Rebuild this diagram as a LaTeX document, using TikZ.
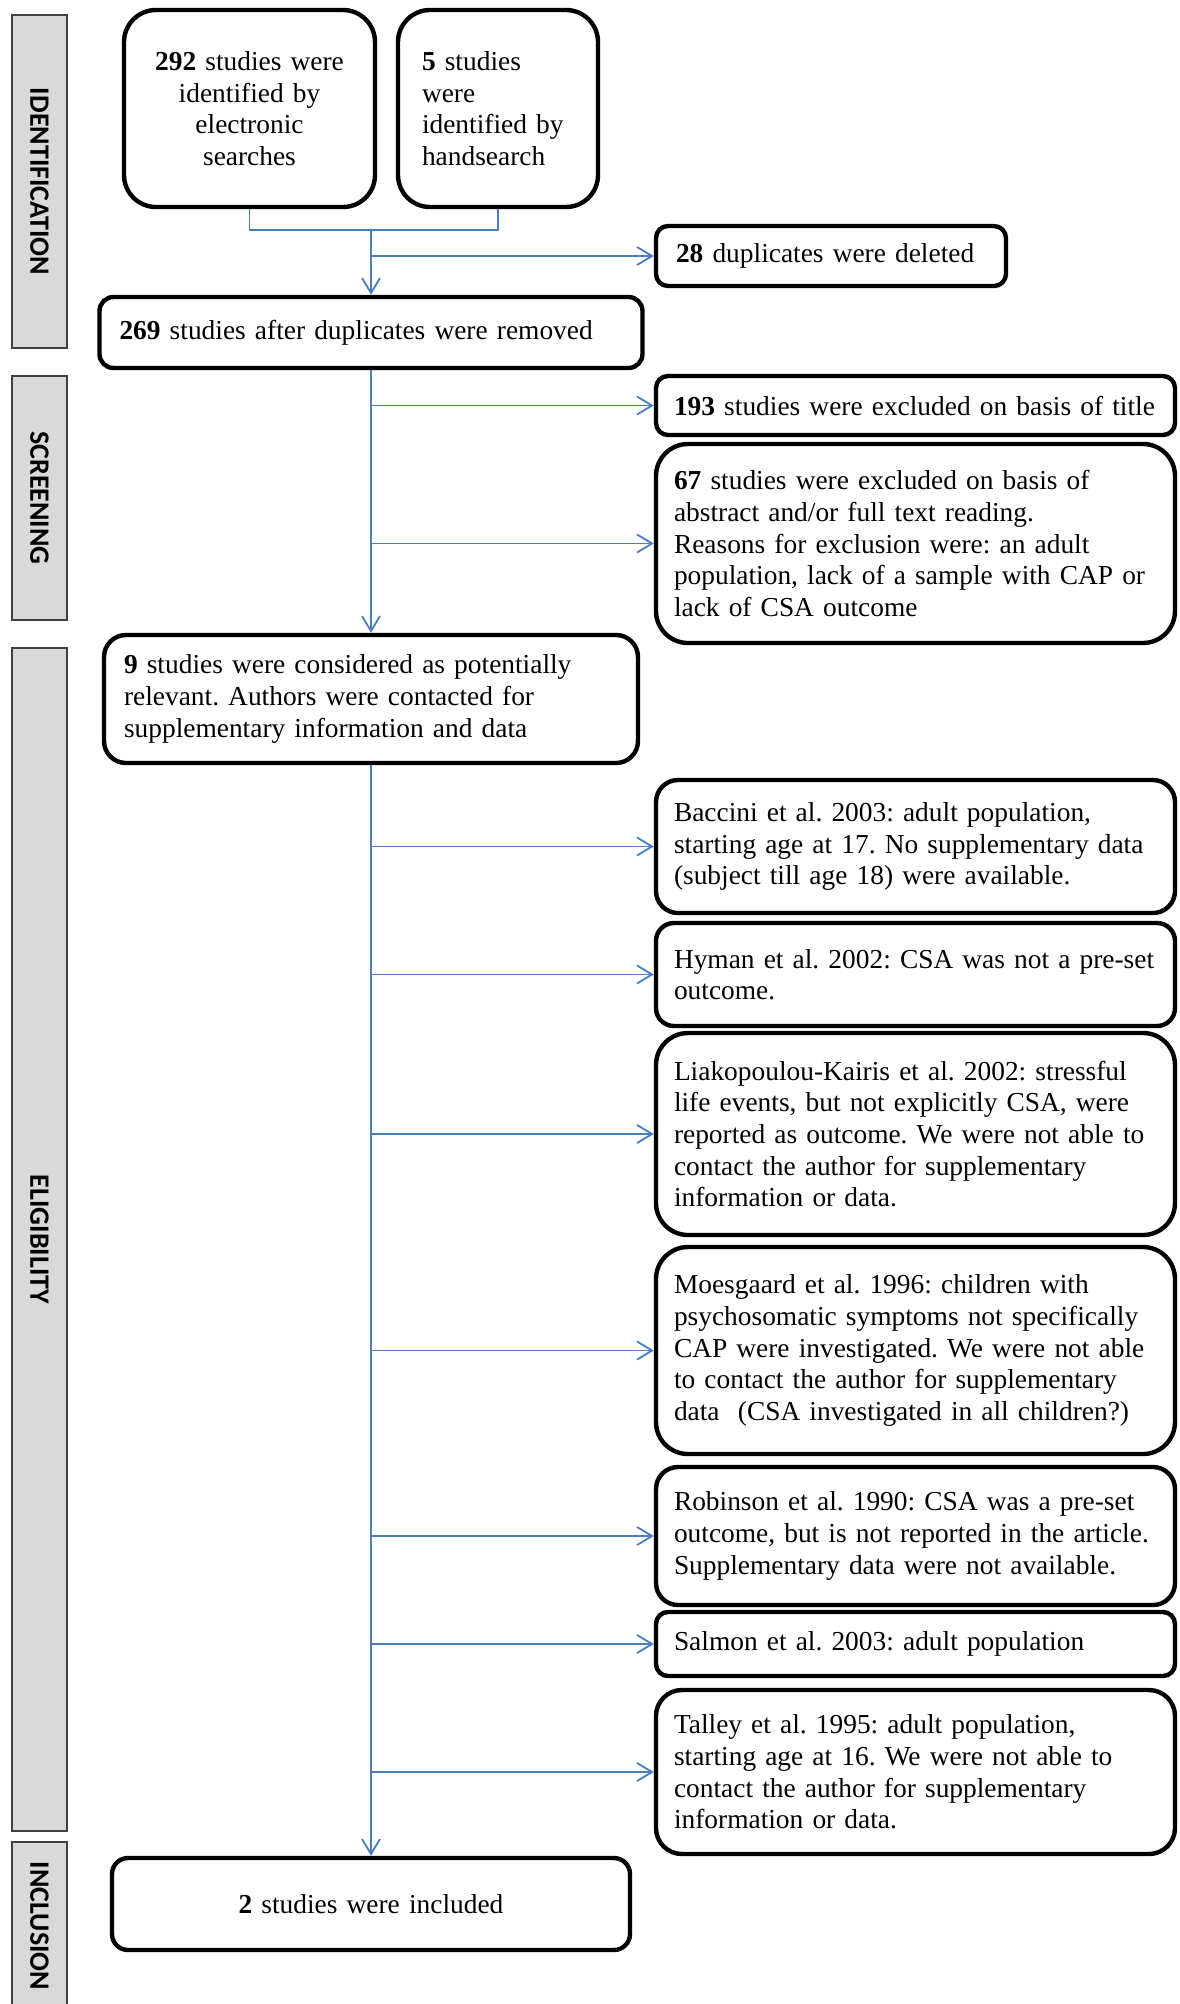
\documentclass[tikz,border=0pt]{standalone}
\usepackage{fontspec}
\setmainfont{Liberation Serif}
\newfontfamily\phasefont{Carlito}
\usetikzlibrary{arrows.meta}
\definecolor{linkblue}{HTML}{4A7EBB}
\definecolor{phasegray}{HTML}{D9D9D9}
\frenchspacing
\hyphenpenalty=10000
\exhyphenpenalty=10000

\begin{document}
\begin{tikzpicture}[x=0.5pt, y=-0.5pt,
    font=\fontsize{13.7}{15.8}\selectfont,
    box/.style={draw, line width=2.2pt, rounded corners=#1, inner xsep=10pt, inner ysep=0pt},
    box/.default=8pt,
    lbox/.style={box=#1, align=left},
    exclbox/.style={lbox=#1, inner xsep=9pt, text width=241.5pt},
    phase/.style={draw=black!75, fill=phasegray, line width=0.8pt, rotate=-90, minimum height=27.5pt, inner sep=0pt, font=\phasefont\bfseries\fontsize{14}{16}\selectfont},
    link/.style={draw=linkblue, line width=0.9pt},
    flow/.style={link, -{Straight Barb[length=7.5pt, width=9pt]}}]
    \useasboundingbox (0,0) rectangle (1179,2004);
    \node[phase, minimum width=166.5pt] (ident) at (39.5,181.5) {IDENTIFICATION};
    \node[phase, minimum width=122pt] (screen) at (39.5,498) {SCREENING};
    \node[phase, minimum width=591.5pt] (elig) at (39.5,1239.5) {ELIGIBILITY};
    \node[phase, minimum width=84pt] (inclus) at (39.5,1926) {INCLUSION};

    \node[box=16pt, align=center, text width=105.5pt, minimum height=98.5pt] (elec) at (249.5,108.5) {\textbf{292} studies were\\identified by\\electronic\\searches};
    \node[box=16pt, align=left, inner xsep=12pt, text width=76pt, minimum height=98.5pt] (hand) at (498,108.5) {\textbf{5} studies\\were\\identified by\\handsearch};
    \node[lbox=6pt, text width=155pt, minimum height=30pt] (dupl) at (831,256) {\textbf{28} duplicates were deleted};
    \node[lbox=7pt, text width=251.5pt, minimum height=35.5pt] (after) at (371,332.5) {\textbf{269} studies after duplicates were removed};
    \node[exclbox=6pt, minimum height=29.5pt] (title) at (915.5,405.5) {\textbf{193} studies were excluded on basis of title};
    \node[exclbox=16pt, minimum height=99.5pt] (abstr) at (915.5,543.5) {\textbf{67} studies were excluded on basis of\\abstract and/or full text reading.\\Reasons for exclusion were: an adult\\population, lack of a sample with CAP or\\lack of CSA outcome};
    \node[lbox=11pt, text width=247pt, minimum height=64pt] (relev) at (371,699) {\textbf{9} studies were considered as potentially\\relevant. Authors were contacted for\\supplementary information and data};
    \node[exclbox=11pt, minimum height=66.5pt] (bacc) at (915.5,846.5) {Baccini et al. 2003: adult population,\\starting age at 17. No supplementary data\\(subject till age 18) were available.};
    \node[exclbox=9pt, minimum height=51.5pt] (hyman) at (915.5,974.5) {Hyman et al. 2002: CSA was not a pre-set\\outcome.};
    \node[exclbox=16pt, minimum height=101pt] (liako) at (915.5,1134) {Liakopoulou-Kairis et al. 2002: stressful\\life events, but not explicitly CSA, were\\reported as outcome. We were not able to\\contact the author for supplementary\\information or data.};
    \node[exclbox=16pt, minimum height=103.5pt] (moes) at (915.5,1350.5) {Moesgaard et al. 1996: children with\\psychosomatic symptoms not specifically\\CAP were investigated. We were not able\\to contact the author for supplementary\\data\ \ (CSA investigated in all children?)};
    \node[exclbox=11pt, minimum height=69pt] (robin) at (915.5,1536) {Robinson et al. 1990: CSA was a pre-set\\outcome, but is not reported in the article.\\Supplementary data were not available.};
    \node[exclbox=6pt, minimum height=32pt] (salmon) at (915.5,1644) {Salmon et al. 2003: adult population};
    \node[exclbox=13pt, minimum height=82pt] (talley) at (915.5,1772) {Talley et al. 1995: adult population,\\starting age at 16. We were not able to\\contact the author for supplementary\\information or data.};
    \node[box=8pt, align=center, text width=239pt, minimum height=46pt] (incl) at (371,1904) {\textbf{2} studies were included};

    \coordinate (join) at (371,230);
    \draw[link] (elec.south) |- (join) -| (hand.south);
    \draw[flow] (join) -- (after);
    \draw[flow] (join |- dupl) -- (dupl);
    \draw[flow] (after) -- (relev);
    \draw[flow] (after.south |- title) -- (title);
    \draw[flow] (after.south |- abstr) -- (abstr);
    \draw[flow] (relev) -- (incl);
    \draw[flow] (relev.south |- bacc) -- (bacc);
    \draw[flow] (relev.south |- hyman) -- (hyman);
    \draw[flow] (relev.south |- liako) -- (liako);
    \draw[flow] (relev.south |- moes) -- (moes);
    \draw[flow] (relev.south |- robin) -- (robin);
    \draw[flow] (relev.south |- salmon) -- (salmon);
    \draw[flow] (relev.south |- talley) -- (talley);
\end{tikzpicture}
\end{document}
